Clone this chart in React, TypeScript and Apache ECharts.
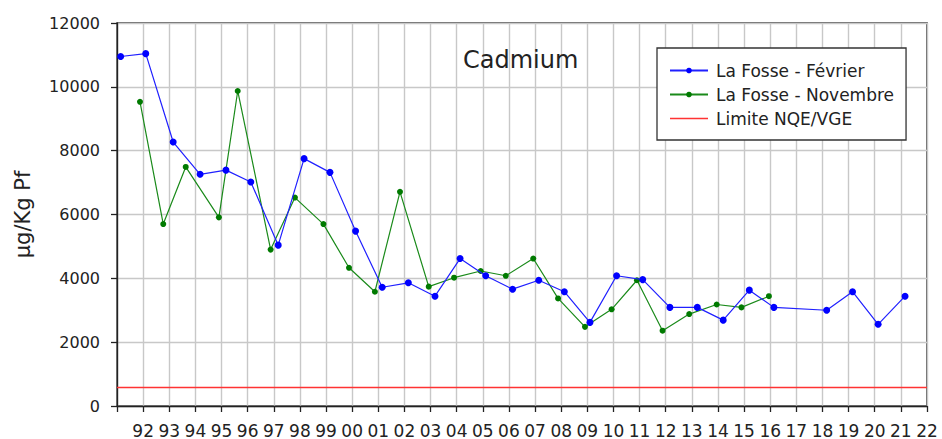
import React, { useEffect, useRef } from "react";
import * as echarts from "echarts";

const febYears = [1991.14, 1992.1, 1993.15, 1994.18, 1995.17, 1996.12, 1997.17, 1998.16, 1999.15, 2000.13, 2001.15, 2002.15, 2003.17, 2004.13, 2005.11, 2006.14, 2007.14, 2008.12, 2009.1, 2010.12, 2011.12, 2012.16, 2013.21, 2014.2, 2015.2, 2016.14, 2018.16, 2019.15, 2020.13, 2021.16];
const febValues = [10950, 11040, 8270, 7260, 7390, 7020, 5040, 7750, 7320, 5480, 3720, 3860, 3440, 4620, 4080, 3660, 3940, 3580, 2620, 4080, 3960, 3090, 3090, 2690, 3630, 3090, 3000, 3580, 2560, 3440];

const novYears = [1991.88, 1992.77, 1993.63, 1994.9, 1995.62, 1996.88, 1997.81, 1998.9, 1999.88, 2000.87, 2001.83, 2002.93, 2003.9, 2004.92, 2005.88, 2006.93, 2007.88, 2008.91, 2009.93, 2010.9, 2011.88, 2012.9, 2013.95, 2014.9, 2015.95];
const novValues = [9530, 5700, 7490, 5910, 9870, 4900, 6530, 5700, 4330, 3580, 6710, 3740, 4020, 4230, 4080, 4620, 3370, 2480, 3030, 3940, 2360, 2880, 3180, 3090, 3440];

const limitYears = [1991, 2022];
const limitValues = [580, 580];

const seriesNames = ["La Fosse - Février", "La Fosse - Novembre", "Limite NQE/VGE"];
const chartTitle = "Cadmium";
const yAxisName = "µg/Kg Pf";

const zip = (xs: number[], ys: number[]) => xs.map((x, i) => [x, ys[i]]);

export default function App() {
  const ref = useRef<HTMLDivElement>(null);
  useEffect(() => {
    if (!ref.current) return;
    const chart = echarts.init(ref.current, null, { renderer: "svg" });
    const font = "DejaVu Sans";
    chart.setOption({
      animation: false,
      backgroundColor: "#ffffff",
      title: {
        text: chartTitle,
        left: 463,
        top: 48,
        padding: 0,
        textStyle: { fontFamily: font, fontSize: 24, fontWeight: "normal", color: "#222222" },
      },
      legend: {
        orient: "vertical",
        left: 657,
        top: 48,
        padding: [14, 12, 13, 12],
        itemWidth: 38,
        itemHeight: 7,
        itemGap: 7,
        borderColor: "#333333",
        borderWidth: 1.3,
        backgroundColor: "#ffffff",
        textStyle: { fontFamily: font, fontSize: 17, lineHeight: 16, color: "#222222", padding: [0, 0, 0, 3] },
        data: [
          { name: seriesNames[0] },
          { name: seriesNames[1] },
          { name: seriesNames[2], icon: "path://M0,0 L38,0 L38,1.6 L0,1.6 Z" },
        ],
      },
      grid: {
        left: 117,
        right: 15,
        top: 23,
        bottom: 33,
        outerBoundsMode: "none",
        containLabel: false,
        show: true,
        borderColor: "#333333",
        borderWidth: 1.5,
        backgroundColor: "transparent",
      },
      xAxis: {
        type: "value",
        min: 1991,
        max: 2022,
        interval: 1,
        axisLine: { show: true, onZero: false, lineStyle: { color: "#222222", width: 1.3 } },
        axisTick: { show: true, length: 6, lineStyle: { color: "#222222", width: 1.3 } },
        axisLabel: {
          margin: 16,
          fontFamily: font,
          fontSize: 17,
          color: "#222222",
          formatter: (v: number) => (v === 1991 ? "" : String(v % 100).padStart(2, "0")),
        },
        splitLine: { show: true, lineStyle: { color: "#c8c8c8", width: 1.4 } },
      },
      yAxis: {
        type: "value",
        min: 0,
        max: 12000,
        interval: 2000,
        name: yAxisName,
        nameLocation: "middle",
        nameGap: 84,
        nameTextStyle: { fontFamily: font, fontSize: 21, color: "#222222" },
        axisLine: { show: true, lineStyle: { color: "#222222", width: 1.3 } },
        axisTick: { show: true, length: 6, lineStyle: { color: "#222222", width: 1.3 } },
        axisLabel: {
          margin: 17,
          fontFamily: font,
          fontSize: 16,
          color: "#222222",
          formatter: (v: number) => String(v),
        },
        splitLine: { show: true, lineStyle: { color: "#c8c8c8", width: 1.4 } },
      },
      series: [
        {
          name: seriesNames[0],
          type: "line",
          data: zip(febYears, febValues),
          symbol: "circle",
          symbolSize: 7,
          itemStyle: { color: "#0000ff" },
          lineStyle: { color: "#2020ff", width: 1.2 },
          z: 4,
        },
        {
          name: seriesNames[1],
          type: "line",
          data: zip(novYears, novValues),
          symbol: "circle",
          symbolSize: 6,
          itemStyle: { color: "#007a00" },
          lineStyle: { color: "#1a8a1a", width: 1.2 },
          z: 3,
        },
        {
          name: seriesNames[2],
          type: "line",
          data: zip(limitYears, limitValues),
          symbol: "none",
          itemStyle: { color: "#ff3333" },
          lineStyle: { color: "#ff3333", width: 1.6 },
          z: 2,
        },
      ],
    });
    return () => chart.dispose();
  }, []);
  return (
    <div
      ref={ref}
      style={{ position: "fixed", left: 0, top: 0, width: 942, height: 439, background: "#fff" }}
    />
  );
}
